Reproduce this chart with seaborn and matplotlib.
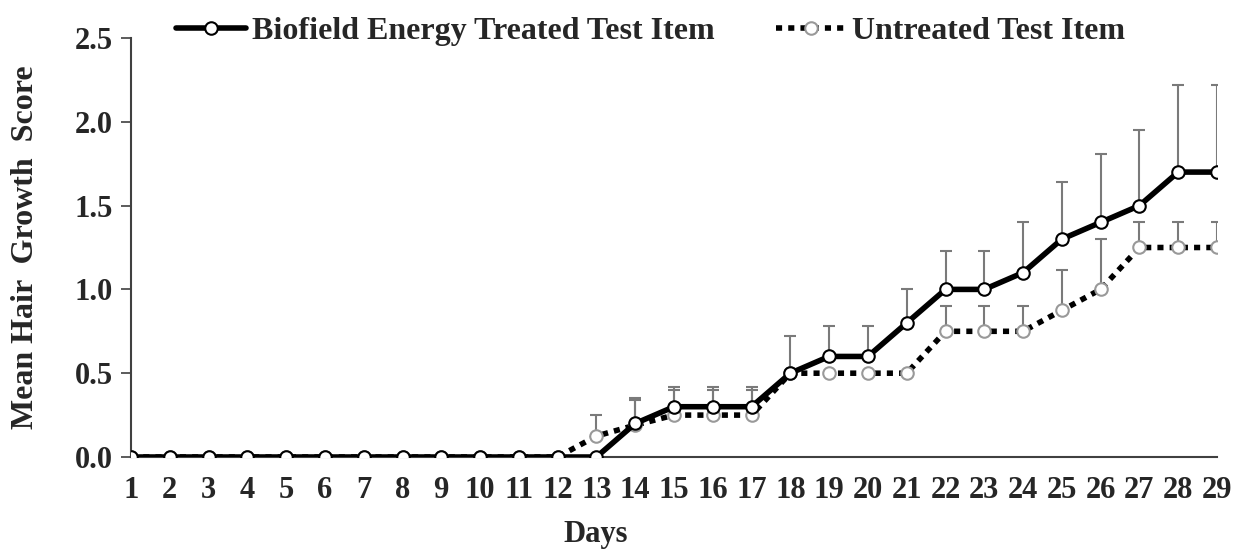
import numpy as np
import pandas as pd
import matplotlib
matplotlib.use("Agg")
import matplotlib.pyplot as plt
import seaborn as sns

# du lieu doc tu hinh
days = list(range(1, 30))
treated = [0, 0, 0, 0, 0, 0, 0, 0, 0, 0, 0, 0, 0, 0.2, 0.3, 0.3, 0.3, 0.5, 0.6, 0.6,
           0.8, 1.0, 1.0, 1.1, 1.3, 1.4, 1.5, 1.7, 1.7]
treated_err = [0, 0, 0, 0, 0, 0, 0, 0, 0, 0, 0, 0, 0, 0.15, 0.12, 0.12, 0.12, 0.22, 0.18, 0.18,
               0.2, 0.23, 0.23, 0.3, 0.34, 0.41, 0.45, 0.52, 0.52]
untreated = [0, 0, 0, 0, 0, 0, 0, 0, 0, 0, 0, 0, 0.125, 0.19, 0.25, 0.25, 0.25, 0.5, 0.5, 0.5,
             0.5, 0.75, 0.75, 0.75, 0.875, 1.0, 1.25, 1.25, 1.25]
untreated_err = [0, 0, 0, 0, 0, 0, 0, 0, 0, 0, 0, 0, 0.125, 0.15, 0.15, 0.15, 0.15, 0, 0, 0,
                 0, 0.15, 0.15, 0.15, 0.24, 0.3, 0.15, 0.15, 0.15]
label_treated = "Biofield Energy Treated Test Item"
label_untreated = "Untreated Test Item"

df = pd.DataFrame({"Days": days, "treated": treated, "untreated": untreated})

sns.set_theme(style="white")
plt.rcParams['font.family'] = ['Liberation Serif', 'DejaVu Serif']
plt.rcParams['font.weight'] = 'bold'

fig = plt.figure(figsize=(12.33, 5.5), dpi=100)
ax = fig.add_axes([131 / 1233, 1 - 457 / 550, (1217 - 131) / 1233, (457 - 38) / 550])

# error bar chi ve phia tren
ax.errorbar(days, untreated, yerr=[np.zeros(len(days)), untreated_err], fmt='none',
            ecolor='#7a7a7a', elinewidth=1.5, capsize=4.5, capthick=1.5, zorder=1)
ax.errorbar(days, treated, yerr=[np.zeros(len(days)), treated_err], fmt='none',
            ecolor='#7a7a7a', elinewidth=1.5, capsize=4.5, capthick=1.5, zorder=1)

sns.lineplot(data=df, x="Days", y="untreated", ax=ax, color='black', linewidth=4,
             linestyle=(0, (1.1, 1.1)), marker='o', markersize=9, markerfacecolor='white',
             markeredgecolor='#999999', markeredgewidth=1.5, label=label_untreated, zorder=2)
ax.lines[-1].set_dash_capstyle('butt')
sns.lineplot(data=df, x="Days", y="treated", ax=ax, color='black', linewidth=4,
             marker='o', markersize=9, markerfacecolor='white',
             markeredgecolor='black', markeredgewidth=1.5, label=label_treated, zorder=3)

ax.set_xlim(1, 29)
ax.set_ylim(0, 2.5)
ax.set_xticks(days)
ax.set_yticks([0, 0.5, 1.0, 1.5, 2.0, 2.5])
ax.set_yticklabels(["0.0", "0.5", "1.0", "1.5", "2.0", "2.5"])
ax.tick_params(axis='y', direction='out', length=7, width=1.2, color='#404040',
               labelsize=22, pad=6, left=True)
ax.tick_params(axis='x', length=0, labelsize=22, pad=14)
for lbl in ax.get_xticklabels() + ax.get_yticklabels():
    lbl.set_fontweight('bold')

for side in ['top', 'right']:
    ax.spines[side].set_visible(False)
for side in ['left', 'bottom']:
    ax.spines[side].set_color('#404040')
    ax.spines[side].set_linewidth(1.5)

ax.set_xlabel("Days", fontsize=22, fontweight='bold')
ax.xaxis.set_label_coords(0.428, -0.15)
ax.set_ylabel("Mean Hair  Growth  Score", fontsize=23, fontweight='bold')
ax.yaxis.set_label_coords(-0.084, 0.5)
ax.grid(False)

handles, labels = ax.get_legend_handles_labels()
ax.legend_.remove()
order = [labels.index(label_treated), labels.index(label_untreated)]
fig.legend([handles[i] for i in order], [labels[i] for i in order],
           loc='upper left', bbox_to_anchor=(147 / 1233, 1 + 12 / 550), ncol=2, frameon=False,
           handlelength=2.2, handletextpad=0.2, columnspacing=1.9,
           prop={'weight': 'bold', 'size': 23})

fig.savefig("out.png", dpi=100)
